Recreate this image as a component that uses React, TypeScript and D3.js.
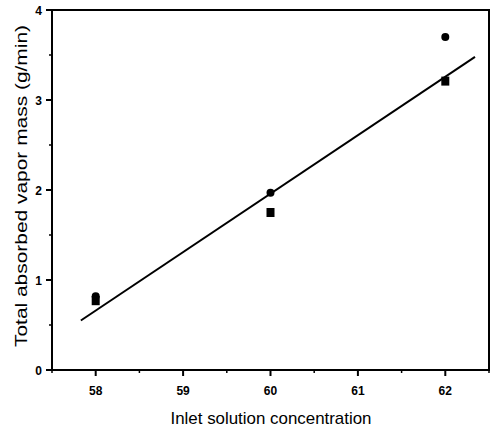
import React from "react";
import * as d3 from "d3";

// Measured absorbed vapor mass at each inlet concentration
const concentrations = [58, 60, 62];
const circleSeries = [0.82, 1.97, 3.7];
const squareSeries = [0.77, 1.75, 3.21];
// Linear fit endpoints
const fitX = [57.83, 62.34];
const fitY = [0.55, 3.48];
const xTicks = [58, 59, 60, 61, 62];
const yTicks = [0, 1, 2, 3, 4];

export default function App() {
  const width = 494;
  const height = 431;
  const left = 52, right = 489, top = 10, bottom = 370;
  const x = d3.scaleLinear().domain([57.5, 62.5]).range([left, right]);
  const y = d3.scaleLinear().domain([0, 4]).range([bottom, top]);
  const xMinor = d3.range(57.5, 62.51, 0.5).filter((v) => !xTicks.includes(v));
  const yMinor = d3.range(0.5, 4, 1);
  const line = d3.line<number>().x((_, i) => x(fitX[i])).y((d) => y(d));
  const font = "Arial, 'Liberation Sans', sans-serif";

  return (
    <svg width={width} height={height} style={{ position: "absolute", left: 0, top: 0 }}>
      <rect x={0} y={0} width={width} height={height} fill="#fff" />
      <rect x={left} y={top} width={right - left} height={bottom - top} fill="none" stroke="#000" strokeWidth={2} />
      {xTicks.map((t) => (
        <g key={"xt" + t}>
          <line x1={x(t)} x2={x(t)} y1={bottom} y2={bottom + 6} stroke="#000" strokeWidth={2} />
          <text x={x(t)} y={395} textAnchor="middle" fontFamily={font} fontWeight="bold" fontSize={12}>{t}</text>
        </g>
      ))}
      {xMinor.map((t) => (
        <line key={"xm" + t} x1={x(t)} x2={x(t)} y1={bottom} y2={bottom + 3} stroke="#000" strokeWidth={1.5} />
      ))}
      {yTicks.map((t) => (
        <g key={"yt" + t}>
          <line x1={left - 6} x2={left} y1={y(t)} y2={y(t)} stroke="#000" strokeWidth={2} />
          <text x={42} y={y(t) + 4.5} textAnchor="end" fontFamily={font} fontWeight="bold" fontSize={12}>{t}</text>
        </g>
      ))}
      {yMinor.map((t) => (
        <line key={"ym" + t} x1={left - 3} x2={left} y1={y(t)} y2={y(t)} stroke="#000" strokeWidth={1.5} />
      ))}
      <path d={line(fitY) ?? ""} fill="none" stroke="#000" strokeWidth={2} />
      {concentrations.map((c, i) => (
        <rect key={"s" + c} x={x(c) - 4} y={y(squareSeries[i]) - 4.5} width={8} height={9} fill="#000" />
      ))}
      {concentrations.map((c, i) => (
        <circle key={"c" + c} cx={x(c)} cy={y(circleSeries[i])} r={4} fill="#000" />
      ))}
      <text x={271} y={424} textAnchor="middle" fontFamily={font} fontSize={17} textLength={201} lengthAdjust="spacingAndGlyphs">
        Inlet solution concentration
      </text>
      <text transform={`translate(27,186) rotate(-90)`} textAnchor="middle" fontFamily={font} fontSize={17} textLength={322} lengthAdjust="spacingAndGlyphs">
        Total absorbed vapor mass (g/min)
      </text>
    </svg>
  );
}
